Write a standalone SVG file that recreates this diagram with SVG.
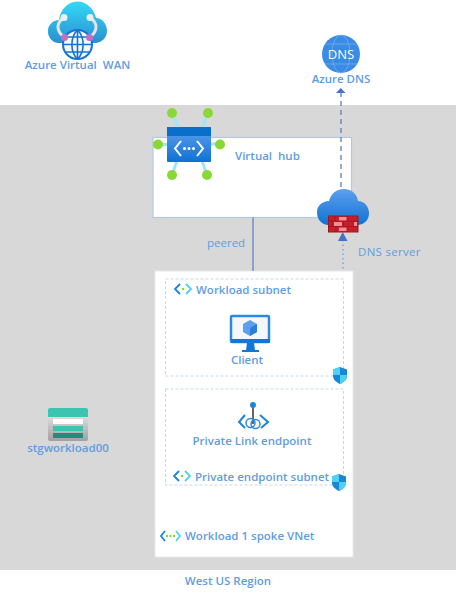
<svg xmlns="http://www.w3.org/2000/svg" width="456" height="596" viewBox="0 0 456 596">
<style>
text{font-family:"Open Sans","Noto Sans","Liberation Sans",sans-serif;font-size:11.500px;font-weight:600;fill:#5f9de0;white-space:pre}
.thin{font-weight:400}
.m{text-anchor:middle}
.sub{fill:none;stroke:#c5d8ea;stroke-width:1;stroke-dasharray:3 2}
.g{fill:#8ad836}
.s{stroke:#9be8fb;stroke-width:3}
.chev{fill:none;stroke-width:1.800}
</style>
<defs>
<linearGradient id="cl" x1="0" y1="0" x2="0" y2="1"><stop offset="0" stop-color="#34d9f8"/><stop offset="1" stop-color="#2a8fd0"/></linearGradient>
<linearGradient id="bl" x1="0" y1="0" x2="0" y2="1"><stop offset="0" stop-color="#5ea0ef"/><stop offset="1" stop-color="#0f72d4"/></linearGradient>
<linearGradient id="sg" x1="0" y1="0" x2="0" y2="1"><stop offset="0" stop-color="#f2f2f2"/><stop offset="1" stop-color="#a0a0a0"/></linearGradient>
<g id="shield"><path d="M0-8 7-5.500V1C7 5 3 7.500 0 9-3 7.500-7 5-7 1V-5.500Z" fill="#1b86d8"/><path d="M0-8V0H-7V-5.500ZM0 0H7V1C7 5 3 7.500 0 9Z" fill="#4fd0f5"/></g>
<g id="sn"><path class="chev" d="M-3-5-8 0-3 5" stroke="#1b86d8"/><path class="chev" d="M3-5 8 0 3 5" stroke="#4fd0f5"/></g>
</defs>
<rect width="456" height="596" fill="#fff"/>
<rect id="region" x="0" y="105" width="456" height="465" fill="#d8d8d8"/>
<g id="hub-box"><rect x="153" y="137.500" width="198.500" height="80" fill="#fff" stroke="#b4c7e7" stroke-width="1.200"/></g>
<g id="spoke-box"><rect x="155" y="271" width="198" height="286" fill="#fff" stroke="#e8e8e8"/></g>
<g id="connectors" fill="none">
<path d="M253 217.500V271" stroke="#5b7fbd" stroke-width="1.200"/>
<path d="M341 187V93" stroke="#5b7fbd" stroke-width="1.300" stroke-dasharray="5 4"/>
<path d="M343 240V271" stroke="#7f9ccb" stroke-width="1.300" stroke-dasharray="1.500 3"/>
<path d="M340.700 88 345.500 93H336Z" fill="#4472c4"/>
<path d="M342.700 232 347.500 241H338Z" fill="#4472c4"/>
</g>
<g id="wan">
<path d="M58 43C51 42 47.500 36 48 30 48.500 24 54 20 59 20 60 10 68 1.500 77 1.500 87 1.500 94 9 96 18 102 18 107 24 107 31 107 38 102 42 96 43Z" fill="url(#cl)"/>
<path d="M64 37C56 31 56 23 64 17.500M90 37C98 31 98 23 90 17.500" fill="none" stroke="#e4e4e4" stroke-width="3"/>
<circle cx="64" cy="17.500" r="3.500" fill="#eee"/><circle cx="90" cy="17.500" r="3.500" fill="#eee"/>
<circle cx="77.500" cy="44.500" r="14.500" fill="#f5f8fc" stroke="#1474d4" stroke-width="2"/>
<path d="M63 44.500H92M65 37H90M65 52H90M77.500 30V59M77.500 30C70 37 70 52 77.500 59M77.500 30C85 37 85 52 77.500 59" fill="none" stroke="#1474d4" stroke-width="1.600"/>
<circle cx="64.500" cy="37.500" r="3.500" fill="#c66fc0"/><circle cx="89.500" cy="37.500" r="3.500" fill="#c66fc0"/>
<text x="77.500" y="69" class="m">Azure Virtual  WAN</text>
</g>
<g id="dns">
<circle cx="341" cy="54" r="19" fill="#3a8be4"/>
<g fill="none" stroke="#7fb3ee" stroke-width=".7"><ellipse cx="341" cy="54" rx="9" ry="19"/><path d="M325 44H357M325 64H357"/></g>
<text x="341" y="59" class="m thin" style="fill:#fff;font-size:13px">DNS</text>
<text x="341" y="83" class="m">Azure DNS</text>
</g>
<g id="virtual-hub">
<path class="s" d="M172 113 178 128M208 113 202 128M158 144.500H168M220 144H210M172 175 177 161M207 175 202 161"/>
<circle class="g" cx="172" cy="113" r="5"/><circle class="g" cx="208" cy="113" r="5"/><circle class="g" cx="158" cy="144.500" r="5"/><circle class="g" cx="220" cy="144.500" r="5"/><circle class="g" cx="172" cy="175" r="5"/><circle class="g" cx="207" cy="175" r="5"/>
<rect x="167" y="127" width="44" height="35" rx="1" fill="url(#bl)"/>
<rect x="167" y="127" width="44" height="9" fill="#0a6fcb"/>
<path d="M181 141 175 148.500 181 156M197 141 203 148.500 197 156" fill="none" stroke="#fff" stroke-width="2"/>
<circle cx="184.500" cy="148.500" r="1.500" fill="#fff"/><circle cx="189" cy="148.500" r="1.500" fill="#fff"/><circle cx="193.500" cy="148.500" r="1.500" fill="#fff"/>
<text x="235" y="160">Virtual  hub</text>
</g>
<text id="peered" x="207" y="247" class="thin">peered</text>
<g id="firewall">
<path d="M328 225C320 224 317 218 317 212 317 206 322 201 329 201 331 193 337 189 344 189 352 189 357 194 358 201 364 201 369 206 369 213 369 220 365 224 358 225Z" fill="url(#bl)"/>
<rect x="328.500" y="216" width="29.500" height="16" fill="#c5202a" stroke="#9d1820"/>
<path d="M328 221H358M328 226.500H358M335 216V221M347 216V221M332 221V226.500M343 221V226.500M354 221V226.500M336 226.500V232M347 226.500V232" stroke="#8e1219" stroke-width=".6"/>
<path d="M339 217H346.500V220.500H339ZM334 222H342V226H334ZM354 222H357V226H354ZM339 227.500H346.500V231H339Z" fill="#f58a98"/>
<text x="358" y="256" class="thin" style="letter-spacing:.3px">DNS server</text>
</g>
<g id="workload-subnet">
<rect class="sub" x="165.500" y="279" width="178" height="97"/>
<use href="#sn" x="183" y="289"/><circle cx="183" cy="289" r="1.300" fill="#8ad836"/>
<text x="196" y="294">Workload subnet</text>
<use href="#shield" x="340" y="375"/>
</g>
<g id="client">
<rect x="231" y="316" width="38" height="26" rx="1" fill="#f4f7fb" stroke="#2b8be4" stroke-width="2.500"/>
<path d="M231 339H270V343H231Z" fill="#1476d6"/>
<path d="M247 343H254L255 350H259V352H242V350H246Z" fill="#1476d6"/>
<path d="M250 320 257 324V332L250 336 243 332V324Z" fill="#5ea0ef"/>
<path d="M250 328 257 324V332L250 336Z" fill="#2c7fd8"/>
<text x="247" y="364" class="m">Client</text>
</g>
<g id="pe-subnet">
<rect class="sub" x="165.500" y="389" width="178" height="96"/>
<use href="#sn" x="182" y="476"/><circle cx="182" cy="476" r="1.300" fill="#8ad836"/>
<text x="195" y="481">Private endpoint subnet</text>
<use href="#shield" x="339" y="482"/>
</g>
<g id="private-link">
<path d="M253 406V424" stroke="#666" stroke-width="2"/>
<circle cx="253" cy="405" r="3" fill="#1b86d8"/>
<path d="M245 415 239 422 245 428" fill="none" stroke="#1b86d8" stroke-width="2"/>
<path d="M260 415 268 422 261 428" fill="none" stroke="#1b86d8" stroke-width="2"/>
<circle cx="250.500" cy="423" r="4.500" fill="none" stroke="#2b8be4" stroke-width="1.500"/><circle cx="255.500" cy="424" r="4.500" fill="none" stroke="#2b8be4" stroke-width="1.500"/>
<text x="252" y="445" class="m">Private Link endpoint</text>
</g>
<g id="spoke-vnet">
<path class="chev" d="M165 531 161 536 165 541" stroke="#1b86d8"/><path class="chev" d="M176 531 180 536 176 541" stroke="#4fd0f5"/>
<circle cx="167" cy="536" r="1.200" fill="#8ad836"/><circle cx="170.500" cy="536" r="1.200" fill="#8ad836"/><circle cx="174" cy="536" r="1.200" fill="#8ad836"/>
<text x="185" y="540">Workload 1 spoke VNet</text>
</g>
<g id="storage">
<rect x="48" y="408" width="40" height="33" rx="2" fill="url(#sg)"/>
<path d="M48 410Q48 408 50 408H86Q88 408 88 410V417H48Z" fill="#3bc4b0"/>
<rect x="53" y="419" width="30" height="5" fill="#fff"/><rect x="53" y="426" width="30" height="5" fill="#3bc4b0"/><rect x="53" y="433" width="30" height="5" fill="#268a7c"/>
<text x="68" y="452" class="m">stgworkload00</text>
</g>
<text id="region-label" x="228" y="585" class="m">West US Region</text>
</svg>
